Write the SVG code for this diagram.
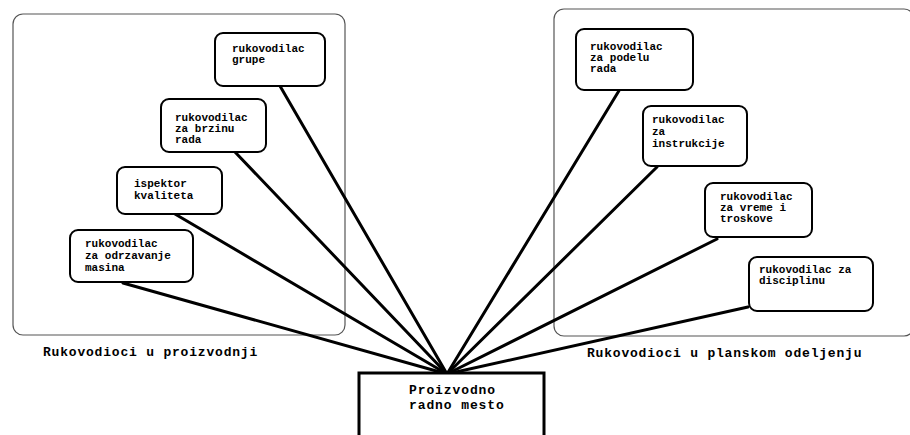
<svg xmlns="http://www.w3.org/2000/svg" width="910" height="435" viewBox="0 0 910 435">
<style>
.cont{fill:none;stroke:#555;stroke-width:1.2}
.node{fill:#fff;stroke:#000;stroke-width:2}
.t{font-family:"Liberation Mono","DejaVu Sans Mono",monospace;font-weight:bold;font-size:11px;fill:#000}
.lbl{font-family:"Liberation Mono","DejaVu Sans Mono",monospace;font-weight:bold;font-size:13px;letter-spacing:0.8px;fill:#000}
.ctr{font-family:"Liberation Mono","DejaVu Sans Mono",monospace;font-weight:bold;font-size:13px;letter-spacing:0.9px;fill:#000}
.conn line{stroke:#000;stroke-width:3;stroke-linecap:round}
</style>
<rect width="910" height="435" fill="#fff"/>
<g id="group-proizvodnja">
<rect class="cont" x="13" y="14" width="332" height="321" rx="10"/>
<text class="lbl" x="43" y="356">Rukovodioci u proizvodnji</text>
</g>
<g id="group-plansko">
<rect class="cont" x="554" y="9" width="360" height="327" rx="10"/>
<text class="lbl" x="587" y="357">Rukovodioci u planskom odeljenju</text>
</g>
<g class="conn" id="connectors">
<line x1="280" y1="86" x2="447" y2="374"/>
<line x1="235" y1="152" x2="447" y2="374"/>
<line x1="175" y1="214" x2="447" y2="374"/>
<line x1="123" y1="283" x2="447" y2="374"/>
<line x1="620" y1="89" x2="447" y2="374"/>
<line x1="657" y1="167" x2="447" y2="374"/>
<line x1="717" y1="239" x2="447" y2="374"/>
<line x1="748" y1="307" x2="447" y2="374"/>
</g>
<g id="n-grupe">
<rect class="node" x="215" y="33" width="110" height="53" rx="8"/>
<text class="t" x="232" y="52">rukovodilac</text>
<text class="t" x="232" y="63">grupe</text>
</g>
<g id="n-brzina">
<rect class="node" x="161" y="99" width="105" height="53" rx="8"/>
<text class="t" x="175" y="121">rukovodilac</text>
<text class="t" x="175" y="132">za brzinu</text>
<text class="t" x="175" y="143">rada</text>
</g>
<g id="n-ispektor">
<rect class="node" x="117" y="167" width="105" height="47" rx="8"/>
<text class="t" x="134" y="187">ispektor</text>
<text class="t" x="134" y="199">kvaliteta</text>
</g>
<g id="n-odrzavanje">
<rect class="node" x="70" y="230" width="123" height="52" rx="8"/>
<text class="t" x="85" y="247">rukovodilac</text>
<text class="t" x="85" y="259">za odrzavanje</text>
<text class="t" x="85" y="271">masina</text>
</g>
<g id="n-podela">
<rect class="node" x="576" y="29" width="117" height="61" rx="8"/>
<text class="t" x="590" y="50">rukovodilac</text>
<text class="t" x="590" y="61">za podelu</text>
<text class="t" x="590" y="72">rada</text>
</g>
<g id="n-instrukcije">
<rect class="node" x="643" y="106" width="104" height="60" rx="8"/>
<text class="t" x="652" y="123">rukovodilac</text>
<text class="t" x="652" y="135">za</text>
<text class="t" x="652" y="147">instrukcije</text>
</g>
<g id="n-vreme">
<rect class="node" x="705" y="183" width="107" height="54" rx="8"/>
<text class="t" x="720" y="200">rukovodilac</text>
<text class="t" x="720" y="211">za vreme i</text>
<text class="t" x="720" y="222">troskove</text>
</g>
<g id="n-disciplina">
<rect class="node" x="749" y="257" width="124" height="54" rx="8"/>
<text class="t" x="759" y="273">rukovodilac za</text>
<text class="t" x="759" y="284">disciplinu</text>
</g>
<g id="n-radno-mesto">
<rect x="359" y="373" width="185" height="70" fill="#fff" stroke="#000" stroke-width="3"/>
<text class="ctr" x="409" y="394">Proizvodno</text>
<text class="ctr" x="409" y="409">radno mesto</text>
</g>
</svg>
